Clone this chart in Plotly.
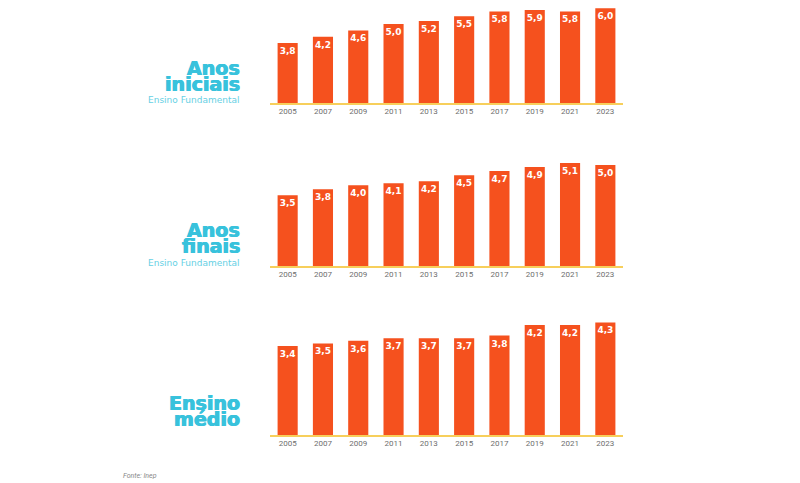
import plotly.graph_objects as go

years = ["2005", "2007", "2009", "2011", "2013", "2015", "2017", "2019", "2021", "2023"]
anos_iniciais = [3.8, 4.2, 4.6, 5.0, 5.2, 5.5, 5.8, 5.9, 5.8, 6.0]
anos_finais = [3.5, 3.8, 4.0, 4.1, 4.2, 4.5, 4.7, 4.9, 5.1, 5.0]
ensino_medio = [3.4, 3.5, 3.6, 3.7, 3.7, 3.7, 3.8, 4.2, 4.2, 4.3]
series = [anos_iniciais, anos_finais, ensino_medio]

BAR = "#F5511E"
LINE = "#F7CF5B"
CYAN = "#38C2DC"
CYAN_L = "#66D0E4"

# the page body has an 8px margin; work in screen pixels and convert
OFF = 8
W, H = 800 - OFF, 483 - OFF
def py(s):
    return min(1.0, max(0.0, (H - (s - OFF)) / H))
def px(s):
    return (s - OFF) / W

# panel geometry in screen pixels: (baseline, top, y-range max)
panels = [(103, 8, 6.02), (266, 160, 5.25), (435, 318, 4.47)]

fig = go.Figure()
for i, (vals, (base, top, rmax)) in enumerate(zip(series, panels)):
    n = "" if i == 0 else str(i + 1)
    fig.add_trace(go.Bar(
        x=years, y=vals,
        text=[f"{v:.1f}".replace(".", ",") for v in vals],
        textposition="inside", insidetextanchor="end", textangle=0,
        constraintext="none",
        insidetextfont=dict(family="DejaVu Sans", size=9, color="white", weight="bold"),
        marker=dict(color=BAR, line=dict(width=0)),
        xaxis="x" + n, yaxis="y" + n, showlegend=False, hoverinfo="skip",
    ))
    fig.update_layout(**{
        "xaxis" + n: dict(domain=[px(270), px(623)], anchor="y" + n, type="category",
                          showline=True, linecolor=LINE, linewidth=1.5, ticks="",
                          showgrid=False, zeroline=False,
                          tickfont=dict(family="Roboto", size=8, color="#6e6e6e")),
        "yaxis" + n: dict(domain=[py(base), py(top)], anchor="x" + n, range=[0, rmax],
                          visible=False, showgrid=False),
    })

ann = []
def label(text, ypx, size, color, weight="bold", heavy=False):
    font = dict(family="DejaVu Sans", size=size, color=color, weight=weight)
    if heavy:
        font["shadow"] = f"0.6px 0 0 {color}, -0.4px 0 0 {color}"
    ann.append(dict(text=text, x=px(242), y=py(ypx), xref="paper", yref="paper",
                    xanchor="right", yanchor="middle", showarrow=False, font=font))

label("Anos", 68, 19, CYAN, heavy=True)
label("iniciais", 84, 19, CYAN, heavy=True)
label("Ensino Fundamental", 100, 9, CYAN_L, "normal")
label("Anos", 230, 19, CYAN, heavy=True)
label("finais", 246, 19, CYAN, heavy=True)
label("Ensino Fundamental", 263, 9, CYAN_L, "normal")
label("Ensino", 403, 19, CYAN, heavy=True)
label("médio", 419, 19, CYAN, heavy=True)
ann.append(dict(text="<i>Fonte: Inep</i>", x=px(121), y=py(476), xref="paper", yref="paper",
                xanchor="left", yanchor="middle", showarrow=False,
                font=dict(family="Roboto", size=7, color="#888888")))

fig.update_layout(
    width=W, height=H, margin=dict(l=0, r=0, t=0, b=0),
    paper_bgcolor="white", plot_bgcolor="white", bargap=0.43,
    annotations=ann,
)
fig.write_html("out.html")
